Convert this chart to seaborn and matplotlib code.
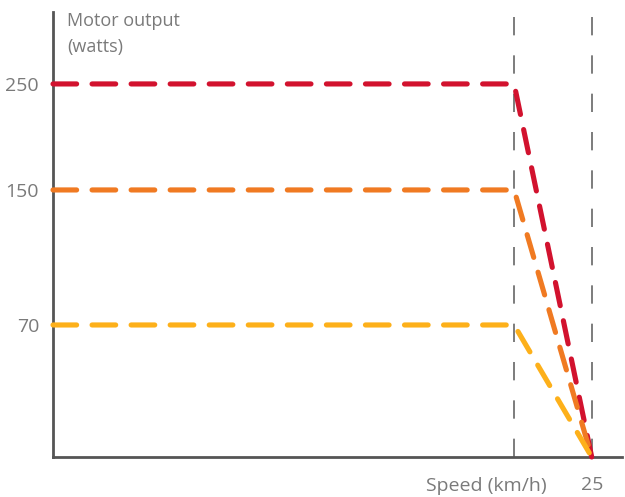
import matplotlib
matplotlib.use("Agg")
import matplotlib.pyplot as plt
import seaborn as sns
import pandas as pd
import numpy as np

# motor output levels (watts) and the speed curve
levels = [250, 150, 70]
colors = ["#d2122e", "#f07a22", "#fdb01a"]
speed = [0, 21.4, 25]          # km/h: full power until the cut-off point, zero at 25
cutoff_marks = [21.4, 25]
y_ticks = [70, 150, 250]
x_ticks = [25]

rows = []
for w in levels:
    for s, p in zip(speed, [w, w, 0]):
        rows.append({"speed": s, "watts": p, "level": str(w)})
df = pd.DataFrame(rows)

sns.set_style("white")
plt.rcParams["font.family"] = ["Open Sans", "DejaVu Sans"]

fig = plt.figure(figsize=(6.25, 4.97), dpi=100)
ax = fig.add_axes([0.0848, 0.0805, 0.9102, 0.8955])

# the y axis of the original is not linear, so map the tick values onto it
knots_v = [0, 70, 150, 250, 318]
knots_p = [0, 132, 267, 373, 445]
fwd = lambda v: np.interp(v, knots_v, knots_p)
inv = lambda p: np.interp(p, knots_p, knots_v)
ax.set_yscale("function", functions=(fwd, inv))

for x in cutoff_marks:
    ax.axvline(x, color="#666666", lw=1.2, dashes=(11, 12), zorder=1)

sns.lineplot(data=df, x="speed", y="watts", hue="level", hue_order=[str(v) for v in levels],
             palette=colors, sort=False, legend=False, lw=3.7, ax=ax, zorder=3)
for ln in ax.lines[len(cutoff_marks):]:
    ln.set_dashes((4.6, 3.0))
    ln.set_dash_capstyle("round")
    ln.set_solid_joinstyle("round")
    ln.set_clip_on(False)

ax.set_xlim(0, 26.4)
ax.set_ylim(0, 318)
ax.set_yticks(y_ticks)
ax.set_yticklabels([str(v) for v in y_ticks])
ax.set_xticks(x_ticks)
ax.set_xticklabels([str(v) for v in x_ticks])
ax.tick_params(axis="y", length=0, pad=10, labelsize=14, labelcolor="#7a7a7a")
ax.tick_params(axis="x", length=0, pad=14, labelsize=14, labelcolor="#7a7a7a")
ax.set_xlabel("")
ax.set_ylabel("")

for side in ["top", "right"]:
    ax.spines[side].set_visible(False)
for side in ["left", "bottom"]:
    ax.spines[side].set_color("#555555")
    ax.spines[side].set_linewidth(2)

ax.text(0.025, 1.0, "Motor output\n(watts)", transform=ax.transAxes, ha="left", va="top",
        fontsize=13, color="#7a7a7a", linespacing=1.55)
ax.text(0.867, -0.045, "Speed (km/h)", transform=ax.transAxes, ha="right", va="top",
        fontsize=14, color="#7a7a7a")

fig.savefig("out.png", dpi=100)
